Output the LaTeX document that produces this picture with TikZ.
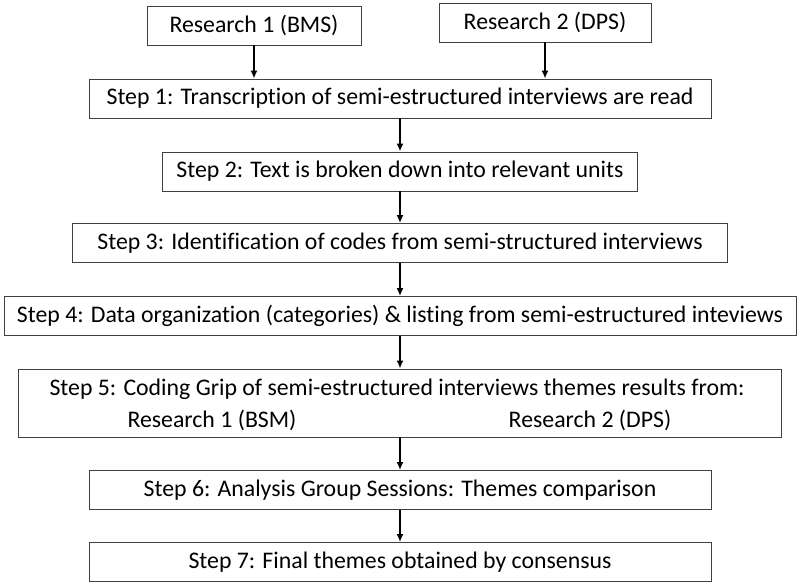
\documentclass[tikz,border=0pt]{standalone}
\usepackage{fontspec}
\setmainfont{Carlito}[Ligatures=NoCommon]
\usepackage{tikz}
\usetikzlibrary{arrows,arrows.meta,positioning}
\tikzstyle{stepbox}=[draw=black!75,line width=0.9pt,fill=white,minimum height=39pt,inner sep=0pt,font=\fontsize{23.8}{27}\selectfont]
\tikzstyle{plain}=[inner sep=0pt,font=\fontsize{23.8}{27}\selectfont]
\tikzstyle{flow}=[-{Latex[length=8pt,width=7pt]},line width=1.6pt]

\begin{document}
\begin{tikzpicture}[x=1pt,y=-1pt]
\useasboundingbox (0,0) rectangle (800,586);
% sources
\node [stepbox, minimum width=214pt] (r1) at (254,25.5) {Research 1 (BMS)};
\node [stepbox, minimum width=212pt] (r2) at (545,22.5) {Research 2 (DPS)};
% steps
\node [stepbox, minimum width=622pt] (s1) at (400,98.5) {Step 1: Transcription of semi-estructured interviews are read};
\node [stepbox, minimum width=475pt] (s2) at (400,171.5) {Step 2: Text is broken down into relevant units};
\node [stepbox, minimum width=655pt] (s3) at (400,243) {Step 3: Identification of codes from semi-structured interviews};
\node [stepbox, minimum width=792pt] (s4) at (400,316) {Step 4: Data organization (categories) \& listing from semi-estructured inteviews};
\node [stepbox, minimum width=763pt, minimum height=68pt] (s5) at (399.5,403) {};
\node [plain] (s5a) at (397,389) {Step 5: Coding Grip of semi-estructured interviews themes results from:};
\node [plain] (s5b) at (212,420) {Research 1 (BSM)};
\node [plain] (s5c) at (590,420) {Research 2 (DPS)};
\node [stepbox, minimum width=622pt] (s6) at (400,490) {Step 6: Analysis Group Sessions: Themes comparison};
\node [stepbox, minimum width=622pt] (s7) at (400,562) {Step 7: Final themes obtained by consensus};
% connectors
\draw [flow] (r1.south) -- (s1.north -| r1.south);
\draw [flow] (r2.south) -- (s1.north -| r2.south);
\draw [flow] (s1.south) -- (s2.north);
\draw [flow] (s2.south) -- (s3.north);
\draw [flow] (s3.south) -- (s4.north);
\draw [flow] (s4.south -| s4.south) -- (s5.north -| s4.south);
\draw [flow] (s5.south -| s6.north) -- (s6.north);
\draw [flow] (s6.south) -- (s7.north);
\end{tikzpicture}
\end{document}
